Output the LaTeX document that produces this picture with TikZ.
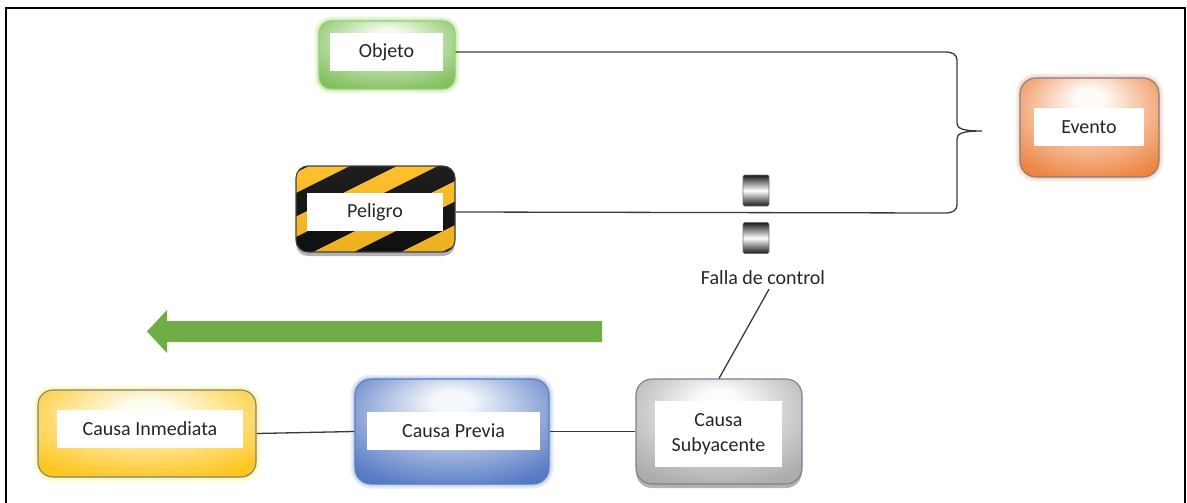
\documentclass[tikz,border=0pt]{standalone}
\usepackage{fontspec}
\setmainfont{Carlito}
\usetikzlibrary{shadows,calc}

\definecolor{txt}{HTML}{262626}
\definecolor{linkc}{HTML}{3A3A3A}
\definecolor{edgeB}{HTML}{71829A}
% green card
\definecolor{objI}{HTML}{F2FAEC}
\definecolor{objO}{HTML}{72B84B}
\definecolor{objB}{HTML}{93CF72}
\definecolor{objG}{HTML}{C2E6A6}
% hazard stripes
\definecolor{stripeY}{HTML}{FDB813}
% orange card
\definecolor{evI}{HTML}{FFFBF8}
\definecolor{evO}{HTML}{EA7429}
\definecolor{evG}{HTML}{F9C9A6}
% yellow card
\definecolor{inI}{HTML}{FFFCF0}
\definecolor{inO}{HTML}{FFBE00}
\definecolor{inG}{HTML}{FFF48A}
% blue card
\definecolor{prI}{HTML}{F4F7FC}
\definecolor{prO}{HTML}{4169BC}
\definecolor{prB}{HTML}{5A7DB8}
\definecolor{prG}{HTML}{AFC5EC}
% grey card
\definecolor{suI}{HTML}{FDFDFD}
\definecolor{suO}{HTML}{A0A0A0}
% arrow
\definecolor{arrowG}{HTML}{70AD47}

% soft highlight near the top centre of each card
\colorlet{cardin}{white}
\colorlet{cardout}{gray}
\pgfdeclareradialshading[cardin,cardout]{cardshade}{\pgfpoint{0bp}{16bp}}{%
  color(0bp)=(cardin); color(5bp)=(cardin);
  color(20bp)=(cardout!45!cardin); color(34bp)=(cardout!85!cardin);
  color(44bp)=(cardout); color(60bp)=(cardout)}

\begin{document}
\begin{tikzpicture}[x=1pt,y=-1pt,
  card/.style={rectangle, rounded corners=14pt, line width=1.1pt, inner sep=0pt},
  tint/.style 2 args={/utils/exec={\colorlet{cardin}{#1}\colorlet{cardout}{#2}},
    shading=cardshade},
  textbox/.style={rectangle, fill=white, inner sep=0pt, font=\fontsize{20}{23}\selectfont,
    text=txt, align=center},
  plain/.style={inner sep=2pt, font=\fontsize{20}{23}\selectfont, text=txt},
  link/.style={draw=linkc, line width=1.3pt},
  glow/.style={preaction={draw=#1, line width=9pt, opacity=.3},
               preaction={draw=#1, line width=5pt, opacity=.55}},
  shadowed/.style={drop shadow={shadow xshift=0pt, shadow yshift=-4pt, opacity=.3, fill=black}},
  metal/.style={rectangle, rounded corners=1.5pt, draw=black!55, line width=.6pt,
    top color=black!90, bottom color=black!90, middle color=white, inner sep=0pt,
    minimum width=26pt, minimum height=31pt}
]
\useasboundingbox (0,0) rectangle (1187,503);

% outer frame
\draw[line width=2pt, black] (6,504) -- (6,8) -- (1185,8) -- (1185,504);

% Objeto
\node[card, minimum width=136pt, minimum height=68pt, rounded corners=12pt,
      draw=objB, tint={objI}{objO}, glow=objG] (objeto) at (387,55) {};
\node[textbox, minimum width=113pt, minimum height=38pt] (objetoT) at (386.5,52) {Objeto};

% Peligro (hazard stripes)
\node[card, minimum width=159pt, minimum height=86pt, rounded corners=12pt,
      draw=black!75, fill=stripeY, shadowed,
      path picture={
        \foreach \k in {-5,...,5}
          \draw[line width=21pt, black]
            ($(path picture bounding box.center)+(-130,44*\k+65)$) -- ++(260,-130);
        \shade[top color=white, bottom color=white!50!black, opacity=.12]
          (path picture bounding box.north west) rectangle (path picture bounding box.south east);
      }] (peligro) at (375.5,209) {};
\node[textbox, minimum width=136pt, minimum height=38pt] (peligroT) at (375,212) {Peligro};

% Evento
\node[card, minimum width=139pt, minimum height=99pt, rounded corners=16pt,
      draw=edgeB, tint={evI}{evO}, glow=evG] (evento) at (1089.5,127.5) {};
\node[textbox, minimum width=110pt, minimum height=38pt] (eventoT) at (1089,127) {Evento};

% brace joining Objeto and Peligro
\coordinate (braceTip) at (982,131);
\draw[link] (objeto.east |- objetoT.east) -- (944,52)
  .. controls (953,52) and (957,54) .. (957,61) -- (957,123)
  .. controls (957,128) and (961,131) .. (braceTip)
  .. controls (961,131) and (957,134) .. (957,139) -- (957,204)
  .. controls (957,211) and (953,213) .. (944,213)
  -- (peligro.east |- peligroT.east);

% control barrier
\node[metal] (barTop) at (756,190.5) {};
\node[metal] (barBot) at (756,238) {};
\node[plain] (falla) at (763,278) {Falla de control};

% direction arrow
\fill[arrowG] (602,321) -- (167,321) -- (167,310) -- (147,331.5)
  -- (167,353) -- (167,342) -- (602,342) -- cycle;

% cause chain
\node[card, minimum width=218pt, minimum height=87pt, rounded corners=15pt,
      draw=edgeB, tint={inI}{inO}, glow=inG] (inmediata) at (147,433.5) {};
\node[textbox, minimum width=186pt, minimum height=38pt] (inmediataT) at (150,429) {Causa Inmediata};

\node[card, minimum width=194pt, minimum height=105pt, rounded corners=16pt,
      draw=prB, tint={prI}{prO}, glow=prG] (previa) at (452,431.5) {};
\node[textbox, minimum width=173pt, minimum height=38pt] (previaT) at (453.5,431) {Causa Previa};

\node[card, minimum width=166pt, minimum height=105pt, rounded corners=16pt,
      draw=edgeB, tint={suI}{suO}, shadowed] (subyacente) at (719,431.5) {};
\node[textbox, minimum width=127pt, minimum height=66pt] (subyacenteT) at (718.5,434)
  {Causa\\[2pt]Subyacente};

\draw[link] (inmediata.east) -- (previa.west);
\draw[link] (previa.east) -- (subyacente.west);
\coordinate (fallaFoot) at ($(falla.south)+(6,2)$);
\draw[link] (fallaFoot) -- (subyacente.north);

\end{tikzpicture}
\end{document}
